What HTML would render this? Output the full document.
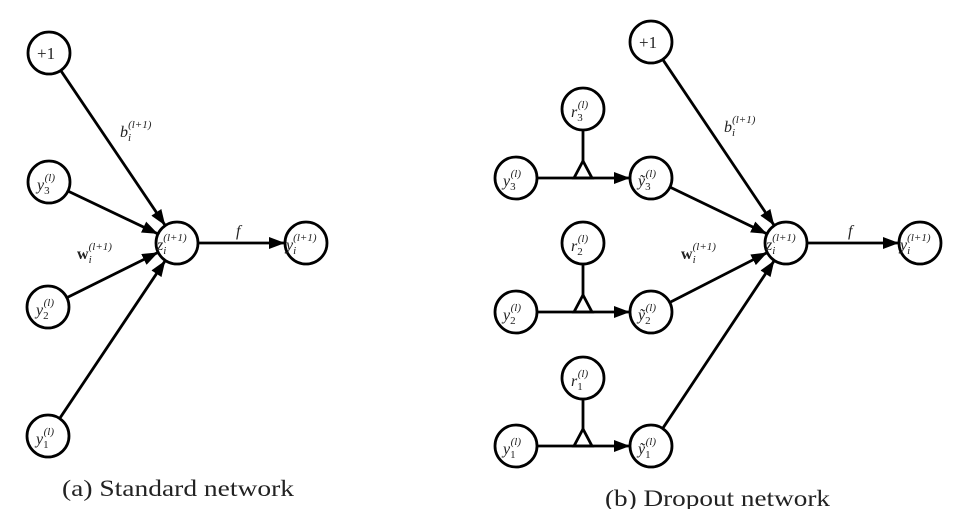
<!DOCTYPE html>
<html><head><meta charset="utf-8"><style>
html,body{margin:0;padding:0;background:#fff;}
svg{display:block}
text{font-family:"Liberation Serif",serif;fill:#222;}
.m{font-style:italic;font-size:16px;}
.s{font-size:11px;font-style:italic;}
.n{font-size:11px;font-style:normal;}
.cap{font-size:23px;}
</style></head><body>
<svg width="977" height="509" viewBox="0 0 977 509" xmlns="http://www.w3.org/2000/svg">
<defs>
<marker id="a" markerUnits="userSpaceOnUse" markerWidth="16" markerHeight="12" refX="15" refY="6" orient="auto">
<path d="M0,0 L16,6 L0,12 Z" fill="#000"/></marker>
</defs>
<g stroke="#000" stroke-width="2.8" fill="none">
<line x1="61.3" y1="71.3" x2="164.7" y2="224.7" marker-end="url(#a)"/>
<line x1="68.9" y1="191.5" x2="157.1" y2="233.5" marker-end="url(#a)"/>
<line x1="67.7" y1="297.2" x2="157.3" y2="252.8" marker-end="url(#a)"/>
<line x1="60.2" y1="417.7" x2="164.8" y2="261.3" marker-end="url(#a)"/>
<line x1="199" y1="243" x2="284" y2="243" marker-end="url(#a)"/>
<circle cx="49" cy="53" r="21"/>
<circle cx="49" cy="182" r="21"/>
<circle cx="48" cy="307" r="21"/>
<circle cx="48" cy="436" r="21"/>
<circle cx="177" cy="243" r="21"/>
<circle cx="306" cy="243" r="21"/>
<line x1="663.3" y1="60.3" x2="773.7" y2="224.7" marker-end="url(#a)"/>
<line x1="670.8" y1="187.5" x2="766.2" y2="233.5" marker-end="url(#a)"/>
<line x1="670.6" y1="302" x2="766.4" y2="253" marker-end="url(#a)"/>
<line x1="663.2" y1="427.7" x2="773.8" y2="261.3" marker-end="url(#a)"/>
<line x1="808" y1="243" x2="898" y2="243" marker-end="url(#a)"/>
<line x1="538" y1="178" x2="629" y2="178" marker-end="url(#a)"/>
<line x1="538" y1="312" x2="629" y2="312" marker-end="url(#a)"/>
<line x1="538" y1="446" x2="629" y2="446" marker-end="url(#a)"/>
<line x1="583" y1="131" x2="583" y2="161"/>
<line x1="583" y1="265" x2="583" y2="295"/>
<line x1="583" y1="400" x2="583" y2="429"/>
<path d="M583,161 L574,178 L592,178 Z"/>
<path d="M583,295 L574,312 L592,312 Z"/>
<path d="M583,429 L574,446 L592,446 Z"/>
<circle cx="651" cy="42" r="21"/>
<circle cx="583" cy="109" r="21"/>
<circle cx="516" cy="178" r="21"/>
<circle cx="651" cy="178" r="21"/>
<circle cx="583" cy="243" r="21"/>
<circle cx="516" cy="312" r="21"/>
<circle cx="651" cy="312" r="21"/>
<circle cx="583" cy="378" r="21"/>
<circle cx="516" cy="446" r="21"/>
<circle cx="651" cy="446" r="21"/>
<circle cx="786" cy="243" r="21"/>
<circle cx="920" cy="243" r="21"/>
</g>
<text x="37" y="59" style="font-size:17px">+1</text>
<text x="37" y="190" class="m">y<tspan class="n" dy="4">3</tspan><tspan class="s" dx="-5" dy="-13">(l)</tspan></text>
<text x="36" y="315" class="m">y<tspan class="n" dy="4">2</tspan><tspan class="s" dx="-5" dy="-13">(l)</tspan></text>
<text x="36" y="444" class="m">y<tspan class="n" dy="4">1</tspan><tspan class="s" dx="-5" dy="-13">(l)</tspan></text>
<text x="157" y="250" class="m">z<tspan class="s" dy="4">i</tspan><tspan class="s" dx="-3" dy="-13">(l+1)</tspan></text>
<text x="286" y="250" class="m">y<tspan class="s" dy="4">i</tspan><tspan class="s" dx="-3" dy="-13">(l+1)</tspan></text>
<text x="120" y="137" class="m">b<tspan class="s" dy="4">i</tspan><tspan class="s" dx="-3" dy="-13">(l+1)</tspan></text>
<text x="77" y="259" style="font-size:16px;font-weight:bold">w<tspan class="s" style="font-weight:normal" dy="4">i</tspan><tspan class="s" style="font-weight:normal" dx="-3" dy="-13">(l+1)</tspan></text>
<text x="236" y="236" class="m">f</text>
<text x="62" y="496" class="cap" textLength="232" lengthAdjust="spacingAndGlyphs">(a) Standard network</text>
<text x="605" y="506" class="cap" textLength="225" lengthAdjust="spacingAndGlyphs">(b) Dropout network</text>
<text x="639" y="48" style="font-size:17px">+1</text>
<text x="571" y="117" class="m">r<tspan class="n" dy="4">3</tspan><tspan class="s" dx="-5" dy="-13">(l)</tspan></text>
<text x="571" y="251" class="m">r<tspan class="n" dy="4">2</tspan><tspan class="s" dx="-5" dy="-13">(l)</tspan></text>
<text x="571" y="386" class="m">r<tspan class="n" dy="4">1</tspan><tspan class="s" dx="-5" dy="-13">(l)</tspan></text>
<text x="503" y="186" class="m">y<tspan class="n" dy="4">3</tspan><tspan class="s" dx="-5" dy="-13">(l)</tspan></text>
<text x="503" y="320" class="m">y<tspan class="n" dy="4">2</tspan><tspan class="s" dx="-5" dy="-13">(l)</tspan></text>
<text x="503" y="454" class="m">y<tspan class="n" dy="4">1</tspan><tspan class="s" dx="-5" dy="-13">(l)</tspan></text>
<text x="638" y="186" class="m">ỹ<tspan class="n" dy="4">3</tspan><tspan class="s" dx="-5" dy="-13">(l)</tspan></text>
<text x="638" y="320" class="m">ỹ<tspan class="n" dy="4">2</tspan><tspan class="s" dx="-5" dy="-13">(l)</tspan></text>
<text x="638" y="454" class="m">ỹ<tspan class="n" dy="4">1</tspan><tspan class="s" dx="-5" dy="-13">(l)</tspan></text>
<text x="766" y="250" class="m">z<tspan class="s" dy="4">i</tspan><tspan class="s" dx="-3" dy="-13">(l+1)</tspan></text>
<text x="900" y="250" class="m">y<tspan class="s" dy="4">i</tspan><tspan class="s" dx="-3" dy="-13">(l+1)</tspan></text>
<text x="724" y="132" class="m">b<tspan class="s" dy="4">i</tspan><tspan class="s" dx="-3" dy="-13">(l+1)</tspan></text>
<text x="681" y="259" style="font-size:16px;font-weight:bold">w<tspan class="s" style="font-weight:normal" dy="4">i</tspan><tspan class="s" style="font-weight:normal" dx="-3" dy="-13">(l+1)</tspan></text>
<text x="848" y="236" class="m">f</text>
</svg>
</body></html>
